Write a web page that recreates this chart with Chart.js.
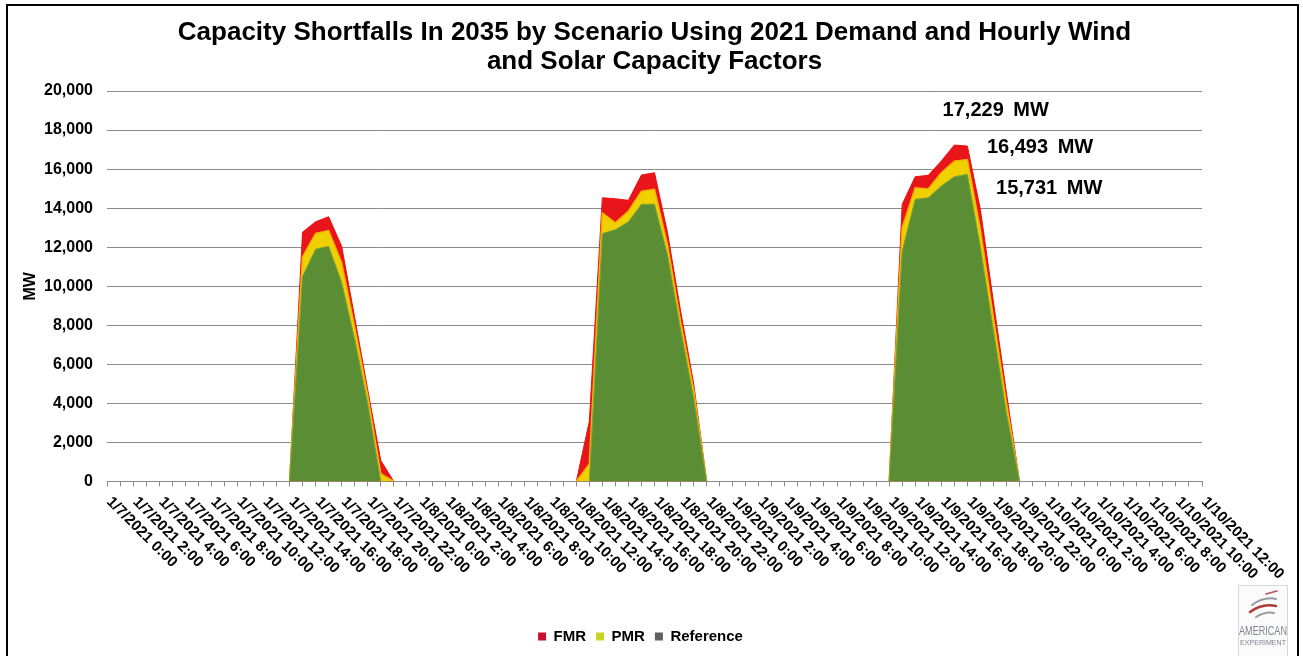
<!DOCTYPE html>
<html>
<head>
<meta charset="utf-8">
<script src="https://cdn.jsdelivr.net/npm/chart.js@4.4.1/dist/chart.umd.min.js"></script>
<style>
  html, body { margin: 0; padding: 0; background: #ffffff; }
  #wrap { position: relative; width: 1303px; height: 656px; }
  canvas { display: block; }
</style>
</head>
<body>
<div id="wrap"><canvas id="c" width="1303" height="656"></canvas></div>
<script>
// ---------------- DATA ----------------
const titleLines = [
  'Capacity Shortfalls In 2035 by Scenario Using 2021 Demand and Hourly Wind',
  'and Solar Capacity Factors'
];
const yAxisTitle = 'MW';
const days = ['1/7/2021', '1/8/2021', '1/9/2021', '1/10/2021'];
const hourCount = 85;              // 1/7/2021 0:00 ... 1/10/2021 12:00, hourly
const categories = [];
for (let h = 0; h < hourCount; h++) {
  categories.push(days[Math.floor(h / 24)] + ' ' + (h % 24) + ':00');
}
const xLabelStep = 2;              // a label every 2 hours

// hourly shortfall values (MW), one row per day
const fmr = [
  0,0,0,0,0,0,0,0,0,0,0,0,0,0,0,12770,13300,13560,12050,8400,4700,1080,0,0,
  0,0,0,0,0,0,0,0,0,0,0,0,0,3080,14530,14480,14400,15700,15810,12740,8740,5040,0,0,
  0,0,0,0,0,0,0,0,0,0,0,0,0,14190,15610,15680,16410,17229,17180,13930,9200,4530,0,0,
  0,0,0,0,0,0,0,0,0,0,0,0,0
];
const pmr = [
  0,0,0,0,0,0,0,0,0,0,0,0,0,0,0,11500,12700,12850,11200,7900,4400,400,0,0,
  0,0,0,0,0,0,0,0,0,0,0,0,0,900,13760,13250,13850,14870,14960,12100,8200,4700,0,0,
  0,0,0,0,0,0,0,0,0,0,0,0,0,13000,15040,14980,15810,16410,16493,12900,8400,4000,0,0,
  0,0,0,0,0,0,0,0,0,0,0,0,0
];
const reference = [
  0,0,0,0,0,0,0,0,0,0,0,0,0,0,0,10500,11900,12050,10200,7300,4000,0,0,0,
  0,0,0,0,0,0,0,0,0,0,0,0,0,0,12700,12900,13300,14200,14200,11600,7800,4300,0,0,
  0,0,0,0,0,0,0,0,0,0,0,0,0,11800,14450,14530,15130,15610,15731,12000,7750,3500,0,0,
  0,0,0,0,0,0,0,0,0,0,0,0,0
];
const seriesNames = ['FMR', 'PMR', 'Reference'];

// peak annotations (text, left edge in hours, vertical centre in MW)
const annoText  = ['17,229 MW', '16,493 MW', '15,731 MW'];
const annoHour  = [64.1, 67.5, 68.2];
const annoValue = [18980, 17090, 15030];

// y axis
const yMin = 0, yMax = 20000, yStep = 2000;

// ---------------- STYLE ----------------
const FONT = '"Liberation Sans", Arial, Helvetica, sans-serif';
const fillColors   = ['#E8151B', '#F0D000', '#5B8D35'];
const borderColors = ['#F01010', '#F5B400', '#7AA53A'];
const legendColors = ['#C8102E', '#C9D321', '#606060'];

Chart.defaults.font.family = FONT;
Chart.defaults.color = '#000';

const xLabelPlugin = {
  id: 'xLabels',
  afterDraw(chart) {
    const xs = chart.scales.x, ctx = chart.ctx;
    ctx.save();
    ctx.font = 'bold 15px ' + FONT;
    ctx.fillStyle = '#000';
    ctx.textAlign = 'left';
    ctx.textBaseline = 'middle';
    for (let i = 0; i < categories.length; i += xLabelStep) {
      const x = xs.getPixelForValue(i);
      ctx.save();
      ctx.translate(x + 2, xs.top + 18);
      ctx.rotate(Math.PI / 4);
      ctx.fillText(categories[i], 0, 0);
      ctx.restore();
    }
    ctx.restore();
  }
};

const annoPlugin = {
  id: 'annos',
  afterDraw(chart) {
    const xs = chart.scales.x, ys = chart.scales.y, ctx = chart.ctx;
    ctx.save();
    ctx.font = 'bold 20px ' + FONT;
    ctx.fillStyle = '#000';
    ctx.textAlign = 'left';
    ctx.textBaseline = 'middle';
    try { ctx.wordSpacing = '4px'; } catch (e) {}
    for (let i = 0; i < annoText.length; i++) {
      ctx.fillText(annoText[i], xs.getPixelForValue(annoHour[i]), ys.getPixelForValue(annoValue[i]));
    }
    ctx.restore();
  }
};

const framePlugin = {
  id: 'frame',
  afterDraw(chart) {
    const ctx = chart.ctx;
    ctx.save();
    // outer frame
    ctx.strokeStyle = '#000';
    ctx.lineWidth = 2;
    ctx.strokeRect(7, 5, 1291, 670);
    // logo
    ctx.fillStyle = '#fbfbfb';
    ctx.fillRect(1238, 585, 50, 72);
    ctx.strokeStyle = '#d8d8d8';
    ctx.lineWidth = 1;
    ctx.strokeRect(1238.5, 585.5, 49, 72);
    ctx.lineCap = 'round';
    ctx.strokeStyle = '#b03a3a';
    ctx.lineWidth = 2.5;
    ctx.beginPath(); ctx.moveTo(1250, 612); ctx.quadraticCurveTo(1262, 603, 1276, 606); ctx.stroke();
    ctx.strokeStyle = '#9a9aa4';
    ctx.lineWidth = 2;
    ctx.beginPath(); ctx.moveTo(1252, 605); ctx.quadraticCurveTo(1264, 596, 1276, 599); ctx.stroke();
    ctx.beginPath(); ctx.moveTo(1256, 617); ctx.quadraticCurveTo(1266, 611, 1274, 613); ctx.stroke();
    ctx.strokeStyle = '#c05050';
    ctx.lineWidth = 1.5;
    ctx.beginPath(); ctx.moveTo(1266, 594); ctx.lineTo(1277, 591); ctx.stroke();
    ctx.fillStyle = '#7f8494';
    ctx.textAlign = 'center';
    ctx.textBaseline = 'middle';
    ctx.font = '13px ' + FONT;
    ctx.fillText('AMERICAN', 1263, 631, 48);
    ctx.font = '8px ' + FONT;
    ctx.fillText('EXPERIMENT', 1263, 643, 46);
    ctx.restore();
  }
};

const datasets = [fmr, pmr, reference].map((vals, i) => ({
  label: seriesNames[i],
  data: vals,
  backgroundColor: fillColors[i],
  borderColor: borderColors[i],
  borderWidth: i === 1 ? 1.5 : 1,
  fill: 'origin',
  pointRadius: 0,
  pointHoverRadius: 0,
  tension: 0,
  order: 3 - i,
  segment: {
    borderColor: c => (c.p0.parsed.y === 0 && c.p1.parsed.y === 0) ? 'rgba(0,0,0,0)' : undefined
  }
}));

new Chart(document.getElementById('c'), {
  type: 'line',
  data: { labels: categories, datasets },
  plugins: [xLabelPlugin, annoPlugin, framePlugin],
  options: {
    responsive: false,
    animation: false,
    devicePixelRatio: 1,
    layout: { padding: { left: 0, right: 22, top: 0, bottom: 2 } },
    plugins: {
      tooltip: { enabled: false },
      title: {
        display: true,
        fullSize: false,
        text: titleLines,
        color: '#000',
        font: { size: 26, weight: 'bold', lineHeight: 28.5 / 26 },
        padding: { top: 19, bottom: 15 }
      },
      legend: {
        display: true,
        position: 'bottom',
        labels: {
          boxWidth: 8,
          boxHeight: 8,
          padding: 10,
          color: '#000',
          font: { size: 15, weight: 'bold' },
          generateLabels: () => seriesNames.map((n, i) => ({
            text: n,
            fillStyle: legendColors[i],
            strokeStyle: legendColors[i],
            lineWidth: 0,
            hidden: false,
            datasetIndex: i
          }))
        }
      }
    },
    scales: {
      x: {
        type: 'category',
        offset: false,
        grid: { display: true, drawOnChartArea: false, drawTicks: true, tickLength: 5, color: '#8a8a8a', lineWidth: 1 },
        border: { display: true, color: '#8a8a8a', width: 1 },
        ticks: { display: false, autoSkip: false },
        afterFit: s => { s.height = 137.5; }
      },
      y: {
        min: yMin,
        max: yMax,
        position: 'left',
        grid: { color: '#8a8a8a', lineWidth: 1, drawTicks: false },
        border: { display: false },
        ticks: {
          stepSize: yStep,
          padding: 14,
          font: { size: 16, weight: 'bold' },
          color: '#000',
          callback: v => Number(v).toLocaleString('en-US')
        },
        title: {
          display: true,
          text: yAxisTitle,
          color: '#000',
          font: { size: 16, weight: 'bold' },
          padding: { top: 21, bottom: 0 }
        },
        afterFit: s => { s.width = 107; }
      },
      y2: {
        position: 'right',
        display: true,
        grid: { display: false, drawTicks: false },
        border: { display: false },
        ticks: { display: false },
        afterFit: s => { s.width = 79; }
      }
    }
  }
});
</script>
</body>
</html>
